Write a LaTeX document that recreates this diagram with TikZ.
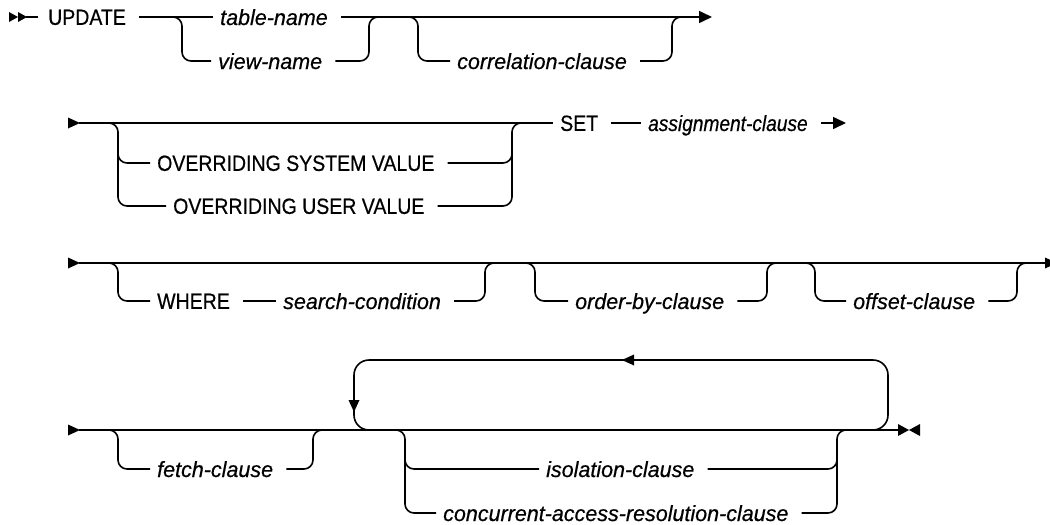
\documentclass[tikz,border=0pt]{standalone}
\usepackage{fontspec}
\setmainfont{Liberation Sans}
\newfontfamily\kwfont[FakeStretch=0.887,FakeBold=0.5]{Liberation Sans}
\newfontfamily\vrfont[FakeStretch=0.977,FakeBold=0.5]{Liberation Sans}
\usetikzlibrary{arrows.meta}
\begin{document}
\begin{tikzpicture}[x=1pt,y=-1pt,
  ln/.style={line width=1.6pt, rounded corners=9pt},
  lp/.style={line width=1.6pt, rounded corners=15pt},
  kw/.style={anchor=west, inner ysep=0pt, inner xsep=7pt, text height=15.7pt, text depth=0pt,
    font=\fontsize{22}{25}\kwfont, execute at end node=\kern6pt},
  vr/.style={kw, text height=16pt, font=\fontsize{22}{25}\vrfont\itshape},
  arr/.style={line width=1.6pt, -{Triangle[length=13pt,width=12pt]}},
  tip/.style={fill=black}
]
\useasboundingbox (0,0) rectangle (1050,525);

% ---------- row 1 ----------
\fill[tip] (9,12) -- (18,17) -- (9,22) -- cycle;
\fill[tip] (18,12) -- (27,17) -- (18,22) -- cycle;
\coordinate (s1) at (26,17);
\node[kw] (upd) at (41,17) {UPDATE};
\node[vr] (tn) at (213,17) {table-name};
\node[vr] (vn) at (211,61) {view-name};
\node[vr] (cc) at (450,61) {correlation-clause};
\coordinate (e1) at (712,17);
\draw[line width=1.6pt] (s1) -- (38,17);
\draw[ln] (upd.east) -- (tn.west);
\draw[arr] (tn.east) -- (e1);
\draw[ln] (173,17) -- (182,17) -- (182,61) -- (vn.west);
\draw[ln] (vn.east) -- (369,61) -- (369,17) -- (378,17);
\draw[ln] (409,17) -- (418,17) -- (418,61) -- (cc.west);
\draw[ln] (cc.east) -- (672,61) -- (672,17) -- (681,17);

% ---------- row 2 ----------
\fill[tip] (68,117.5) -- (80,123) -- (68,128.5) -- cycle;
\coordinate (s2) at (79,123);
\node[kw] (set) at (553,123) {SET};
\node[vr] (asg) at (641,123) {\scalebox{0.89}[1]{assignment-clause}};
\node[kw] (osv) at (150,163) {OVERRIDING SYSTEM VALUE};
\node[kw] (ouv) at (166,206) {OVERRIDING USER VALUE};
\coordinate (e2) at (846,123);
\draw[ln] (s2) -- (set.west);
\draw[ln] (set.east) -- (asg.west);
\draw[arr] (asg.east) -- (e2);
\draw[ln] (109,123) -- (118,123) -- (118,206) -- (ouv.west);
\draw[ln] (118,150) -- (118,163) -- (osv.west);
\draw[ln] (ouv.east) -- (512,206) -- (512,123) -- (521,123);
\draw[ln] (osv.east) -- (512,163) -- (512,150);

% ---------- row 3 ----------
\fill[tip] (68,257.5) -- (80,263) -- (68,268.5) -- cycle;
\coordinate (s3) at (79,263);
\coordinate (e3) at (1046,263);
\node[kw] (wh) at (150,301) {WHERE};
\node[vr] (sc) at (276,301) {search-condition};
\node[vr] (ob) at (568,301) {order-by-clause};
\node[vr] (oc) at (846,301) {offset-clause};
\draw[ln] (s3) -- (e3);
\begin{scope}
  \clip (0,0) rectangle (1050,525);
  \fill[tip] (1045,257.5) -- (1057,263) -- (1045,268.5) -- cycle;
\end{scope}
\draw[ln] (109,263) -- (118,263) -- (118,301) -- (wh.west);
\draw[ln] (wh.east) -- (sc.west);
\draw[ln] (sc.east) -- (485,301) -- (485,263) -- (494,263);
\draw[ln] (526,263) -- (535,263) -- (535,301) -- (ob.west);
\draw[ln] (ob.east) -- (767,301) -- (767,263) -- (776,263);
\draw[ln] (806,263) -- (815,263) -- (815,301) -- (oc.west);
\draw[ln] (oc.east) -- (1017,301) -- (1017,263) -- (1026,263);

% ---------- row 4 ----------
\fill[tip] (68,424.5) -- (80,430) -- (68,435.5) -- cycle;
\coordinate (s4) at (79,430);
\coordinate (e4) at (899,430);
\node[vr] (fc) at (150,469) {fetch-clause};
\node[vr] (ic) at (539,469) {isolation-clause};
\node[vr] (car) at (436,513) {concurrent-access-resolution-clause};
\draw[ln] (s4) -- (e4);
\fill[tip] (898,424) -- (909,430) -- (898,436) -- cycle;
\fill[tip] (920,424) -- (909,430) -- (920,436) -- cycle;
\draw[ln] (109,430) -- (118,430) -- (118,469) -- (fc.west);
\draw[ln] (fc.east) -- (313,469) -- (313,430) -- (322,430);
% repeat loop
\draw[lp] (870,430) -- (888,430) -- (888,360) -- (354,360) -- (354,430) -- (372,430);
\fill[tip] (622,360) -- (634,354.5) -- (634,365.5) -- cycle;
\fill[tip] (354,412) -- (348.5,400) -- (359.5,400) -- cycle;
% choice
\draw[ln] (396,430) -- (405,430) -- (405,513) -- (car.west);
\draw[ln] (405,455) -- (405,469) -- (ic.west);
\draw[ln] (car.east) -- (837,513) -- (837,430) -- (846,430);
\draw[ln] (ic.east) -- (837,469) -- (837,455);
\end{tikzpicture}
\end{document}
